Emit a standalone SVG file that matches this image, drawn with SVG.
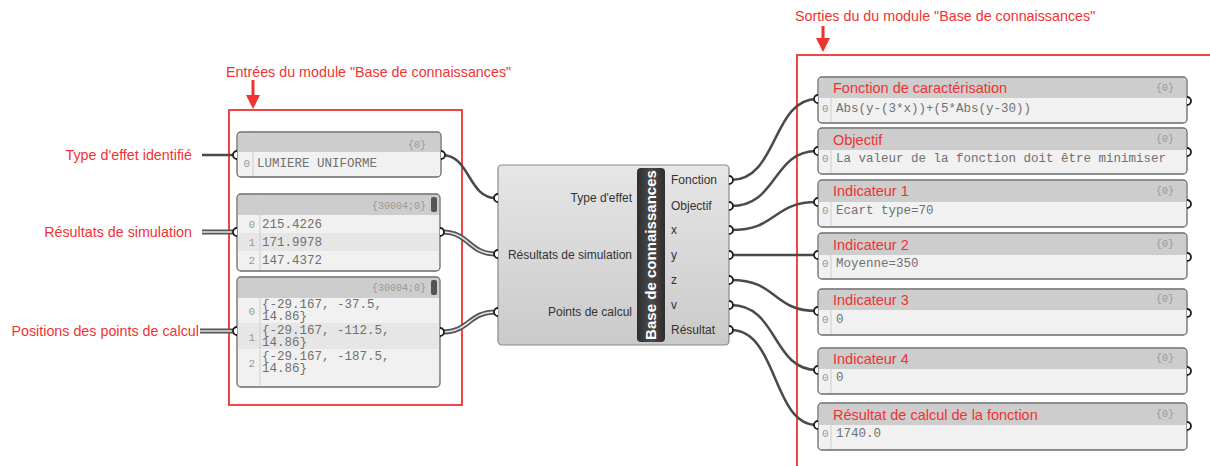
<svg xmlns="http://www.w3.org/2000/svg" width="1210" height="466" viewBox="0 0 1210 466">
<style>
.ann{font-family:"Liberation Sans",Arial,sans-serif;font-size:14.3px;fill:#f03232}
.ttl{font-family:"Liberation Sans",Arial,sans-serif;font-size:14.5px;fill:#f03232}
.red{fill:none;stroke:#f03232;stroke-width:1.8}
.mono{font-family:"Liberation Mono","Courier New",monospace;font-size:12.5px;fill:#707070}
.idx{font-family:"Liberation Mono","Courier New",monospace;font-size:11px;fill:#999}
.path{font-family:"Liberation Mono","Courier New",monospace;font-size:10px;fill:#999}
.lbl{font-family:"Liberation Sans",Arial,sans-serif;font-size:12px;fill:#333}
.pbox{fill:#f1f1f1;stroke:#6a6a6a;stroke-width:1.3}
.phead{fill:#cdcdcd}
.div{stroke:#cfcfcf;stroke-width:1}
.wire{fill:none;stroke:#4a4a4a;stroke-width:2.5}
.dw1{fill:none;stroke:#555;stroke-width:5}
.dw2{fill:none;stroke:#e4e4e4;stroke-width:1.6}
.grip{fill:#fff;stroke:#1e1e1e;stroke-width:1.8}
</style>
<defs>
<linearGradient id="cg" x1="0" y1="0" x2="0" y2="1">
<stop offset="0" stop-color="#e6e6e6"/>
<stop offset="1" stop-color="#cacaca"/>
</linearGradient>
<linearGradient id="bg" x1="0" y1="0" x2="1" y2="0">
<stop offset="0" stop-color="#2e2e2e"/>
<stop offset="0.5" stop-color="#4a4a4a"/>
<stop offset="1" stop-color="#2e2e2e"/>
</linearGradient>
</defs>
<rect width="1210" height="466" fill="#fff"/>

<!-- annotations -->
<g id="annotations">
<text class="ann" x="226" y="77">Entrées du module "Base de connaissances"</text>
<line x1="253" y1="80" x2="253" y2="97" stroke="#f03232" stroke-width="3"/>
<polygon points="246,95 260,95 253,109" fill="#f03232"/>
<rect class="red" x="229" y="110" width="233" height="295"/>
<text class="ann" x="795" y="21">Sorties du du module "Base de connaissances"</text>
<line x1="823" y1="26" x2="823" y2="40" stroke="#f03232" stroke-width="3"/>
<polygon points="816,38 830,38 823,52" fill="#f03232"/>
<rect class="red" x="797" y="55" width="430" height="430"/>
<text class="ann" x="192" y="160" text-anchor="end">Type d'effet identifié</text>
<text class="ann" x="192" y="237" text-anchor="end">Résultats de simulation</text>
<text class="ann" x="199" y="336" text-anchor="end">Positions des points de calcul</text>
</g>

<!-- connectors -->
<g id="connectors">
<line class="wire" x1="202" y1="155" x2="236" y2="155"/>
<line class="dw1" x1="202" y1="232" x2="236" y2="232"/>
<line class="dw2" x1="202" y1="232" x2="236" y2="232"/>
<line class="dw1" x1="200" y1="331" x2="236" y2="331"/>
<line class="dw2" x1="200" y1="331" x2="236" y2="331"/>
<path class="wire" d="M442,155 C470,155 468,198 496,198"/>
<path class="dw1" d="M442,232 C470,232 468,254 496,254"/>
<path class="dw2" d="M442,232 C470,232 468,254 496,254"/>
<path class="dw1" d="M442,332 C470,332 468,312 496,312"/>
<path class="dw2" d="M442,332 C470,332 468,312 496,312"/>
<path class="wire" d="M731,180 C778,180 772,99 817,99"/>
<path class="wire" d="M731,206 C778,206 772,151 817,151"/>
<path class="wire" d="M731,230 C778,230 772,202 817,202"/>
<path class="wire" d="M731,255 L817,255"/>
<path class="wire" d="M731,280 C778,280 772,311 817,311"/>
<path class="wire" d="M731,305 C778,305 772,370 817,370"/>
<path class="wire" d="M731,330 C778,330 772,425 817,425"/>
</g>

<!-- left panels -->
<g id="panel-type-effet">
<rect class="pbox" x="237" y="132" width="204" height="45" rx="4"/>
<path class="phead" d="M238,152 V136 a3,3 0 0 1 3,-3 H437 a3,3 0 0 1 3,3 V152 Z"/>
<line class="div" x1="253" y1="133" x2="253" y2="176"/>
<text class="path" x="426" y="148" text-anchor="end">{0}</text>
<text class="idx" x="250" y="167" text-anchor="end">0</text>
<text class="mono" x="257" y="167">LUMIERE UNIFORME</text>
<path class="grip" d="M237,151 A4,4 0 0 0 237,159"/>
<path class="grip" d="M441,151 A4,4 0 0 1 441,159"/>
</g>

<g id="panel-resultats">
<rect class="pbox" x="237" y="194" width="203" height="77" rx="4"/>
<path class="phead" d="M238,215 V198 a3,3 0 0 1 3,-3 H436 a3,3 0 0 1 3,3 V215 Z"/>
<rect x="238" y="233" width="201" height="18" fill="#e6e6e6"/>
<line class="div" x1="260" y1="195" x2="260" y2="270"/>
<rect x="431" y="197" width="6" height="15" rx="2" fill="#555"/>
<text class="path" x="426" y="209" text-anchor="end">{30004;0}</text>
<text class="idx" x="255" y="228" text-anchor="end">0</text>
<text class="idx" x="255" y="246" text-anchor="end">1</text>
<text class="idx" x="255" y="264" text-anchor="end">2</text>
<text class="mono" x="262" y="228">215.4226</text>
<text class="mono" x="262" y="246">171.9978</text>
<text class="mono" x="262" y="264">147.4372</text>
<path class="grip" d="M237,228 A4,4 0 0 0 237,236"/>
<path class="grip" d="M440,228 A4,4 0 0 1 440,236"/>
</g>

<g id="panel-points">
<rect class="pbox" x="237" y="277" width="203" height="110" rx="4"/>
<path class="phead" d="M238,298 V281 a3,3 0 0 1 3,-3 H436 a3,3 0 0 1 3,3 V298 Z"/>
<rect x="238" y="323" width="201" height="26" fill="#e6e6e6"/>
<line class="div" x1="260" y1="278" x2="260" y2="386"/>
<rect x="431" y="280" width="6" height="15" rx="2" fill="#555"/>
<text class="path" x="426" y="291" text-anchor="end">{30004;0}</text>
<text class="idx" x="255" y="315" text-anchor="end">0</text>
<text class="idx" x="255" y="341" text-anchor="end">1</text>
<text class="idx" x="255" y="367" text-anchor="end">2</text>
<text class="mono" x="262" y="308">{-29.167, -37.5,</text>
<text class="mono" x="262" y="320">14.86}</text>
<text class="mono" x="262" y="334">{-29.167, -112.5,</text>
<text class="mono" x="262" y="346">14.86}</text>
<text class="mono" x="262" y="360">{-29.167, -187.5,</text>
<text class="mono" x="262" y="372">14.86}</text>
<path class="grip" d="M237,327 A4,4 0 0 0 237,335"/>
<path class="grip" d="M440,328 A4,4 0 0 1 440,336"/>
</g>

<!-- central component -->
<g id="component">
<rect x="498" y="165" width="231" height="180" rx="4" fill="url(#cg)" stroke="#8a8a8a" stroke-width="1.2"/>
<rect x="637" y="168" width="28" height="174" rx="4" fill="url(#bg)"/>
<text transform="translate(656,255) rotate(-90)" text-anchor="middle" font-family="Liberation Sans,Arial,sans-serif" font-size="14" font-weight="bold" fill="#fff" textLength="170" lengthAdjust="spacingAndGlyphs">Base de connaissances</text>
<text class="lbl" x="632" y="202" text-anchor="end">Type d'effet</text>
<text class="lbl" x="632" y="259" text-anchor="end">Résultats de simulation</text>
<text class="lbl" x="632" y="316" text-anchor="end">Points de calcul</text>
<text class="lbl" x="671" y="184">Fonction</text>
<text class="lbl" x="671" y="210">Objectif</text>
<text class="lbl" x="671" y="234">x</text>
<text class="lbl" x="671" y="259">y</text>
<text class="lbl" x="671" y="284">z</text>
<text class="lbl" x="671" y="309">v</text>
<text class="lbl" x="671" y="334">Résultat</text>
<path class="grip" d="M498,194 A4,4 0 0 0 498,202"/>
<path class="grip" d="M498,250 A4,4 0 0 0 498,258"/>
<path class="grip" d="M498,308 A4,4 0 0 0 498,316"/>
<path class="grip" d="M729,176 A4,4 0 0 1 729,184"/>
<path class="grip" d="M729,202 A4,4 0 0 1 729,210"/>
<path class="grip" d="M729,226 A4,4 0 0 1 729,234"/>
<path class="grip" d="M729,251 A4,4 0 0 1 729,259"/>
<path class="grip" d="M729,276 A4,4 0 0 1 729,284"/>
<path class="grip" d="M729,301 A4,4 0 0 1 729,309"/>
<path class="grip" d="M729,326 A4,4 0 0 1 729,334"/>
</g>

<!-- right panels -->
<g id="out-fonction">
<rect class="pbox" x="818" y="77" width="369" height="46" rx="4"/>
<path class="phead" d="M819,98 V81 a3,3 0 0 1 3,-3 H1183 a3,3 0 0 1 3,3 V98 Z"/>
<line class="div" x1="831" y1="98" x2="831" y2="122"/>
<text class="ttl" x="833" y="93">Fonction de caractérisation</text>
<text class="path" x="1174" y="91" text-anchor="end">{0}</text>
<text class="idx" x="822" y="112">0</text>
<text class="mono" x="836" y="112">Abs(y-(3*x))+(5*Abs(y-30))</text>
<path class="grip" d="M818,95 A4,4 0 0 0 818,103"/>
<path class="grip" d="M1187,97 A4,4 0 0 1 1187,105"/>
</g>

<g id="out-objectif">
<rect class="pbox" x="818" y="128" width="369" height="46" rx="4"/>
<path class="phead" d="M819,150 V132 a3,3 0 0 1 3,-3 H1183 a3,3 0 0 1 3,3 V150 Z"/>
<line class="div" x1="831" y1="150" x2="831" y2="173"/>
<text class="ttl" x="833" y="145">Objectif</text>
<text class="path" x="1174" y="142" text-anchor="end">{0}</text>
<text class="idx" x="822" y="162">0</text>
<text class="mono" x="836" y="162">La valeur de la fonction doit être minimiser</text>
<path class="grip" d="M818,147 A4,4 0 0 0 818,155"/>
<path class="grip" d="M1187,148 A4,4 0 0 1 1187,156"/>
</g>

<g id="out-indicateur1">
<rect class="pbox" x="818" y="180" width="369" height="47" rx="4"/>
<path class="phead" d="M819,202 V184 a3,3 0 0 1 3,-3 H1183 a3,3 0 0 1 3,3 V202 Z"/>
<line class="div" x1="831" y1="202" x2="831" y2="226"/>
<text class="ttl" x="833" y="196">Indicateur 1</text>
<text class="path" x="1174" y="194" text-anchor="end">{0}</text>
<text class="idx" x="822" y="214">0</text>
<text class="mono" x="836" y="214">Ecart type=70</text>
<path class="grip" d="M818,198 A4,4 0 0 0 818,206"/>
<path class="grip" d="M1187,200 A4,4 0 0 1 1187,208"/>
</g>

<g id="out-indicateur2">
<rect class="pbox" x="818" y="233" width="369" height="46" rx="4"/>
<path class="phead" d="M819,255 V237 a3,3 0 0 1 3,-3 H1183 a3,3 0 0 1 3,3 V255 Z"/>
<line class="div" x1="831" y1="255" x2="831" y2="278"/>
<text class="ttl" x="833" y="250">Indicateur 2</text>
<text class="path" x="1174" y="247" text-anchor="end">{0}</text>
<text class="idx" x="822" y="267">0</text>
<text class="mono" x="836" y="267">Moyenne=350</text>
<path class="grip" d="M818,251 A4,4 0 0 0 818,259"/>
<path class="grip" d="M1187,253 A4,4 0 0 1 1187,261"/>
</g>

<g id="out-indicateur3">
<rect class="pbox" x="818" y="289" width="369" height="46" rx="4"/>
<path class="phead" d="M819,310 V293 a3,3 0 0 1 3,-3 H1183 a3,3 0 0 1 3,3 V310 Z"/>
<line class="div" x1="831" y1="310" x2="831" y2="334"/>
<text class="ttl" x="833" y="305">Indicateur 3</text>
<text class="path" x="1174" y="302" text-anchor="end">{0}</text>
<text class="idx" x="822" y="323">0</text>
<text class="mono" x="836" y="323">0</text>
<path class="grip" d="M818,307 A4,4 0 0 0 818,315"/>
<path class="grip" d="M1187,309 A4,4 0 0 1 1187,317"/>
</g>

<g id="out-indicateur4">
<rect class="pbox" x="818" y="348" width="369" height="46" rx="4"/>
<path class="phead" d="M819,369 V352 a3,3 0 0 1 3,-3 H1183 a3,3 0 0 1 3,3 V369 Z"/>
<line class="div" x1="831" y1="369" x2="831" y2="393"/>
<text class="ttl" x="833" y="364">Indicateur 4</text>
<text class="path" x="1174" y="361" text-anchor="end">{0}</text>
<text class="idx" x="822" y="381">0</text>
<text class="mono" x="836" y="381">0</text>
<path class="grip" d="M818,366 A4,4 0 0 0 818,374"/>
<path class="grip" d="M1187,367 A4,4 0 0 1 1187,375"/>
</g>

<g id="out-resultat">
<rect class="pbox" x="818" y="403" width="369" height="47" rx="4"/>
<path class="phead" d="M819,425 V407 a3,3 0 0 1 3,-3 H1183 a3,3 0 0 1 3,3 V425 Z"/>
<line class="div" x1="831" y1="425" x2="831" y2="449"/>
<text class="ttl" x="833" y="420">Résultat de calcul de la fonction</text>
<text class="path" x="1174" y="417" text-anchor="end">{0}</text>
<text class="idx" x="822" y="437">0</text>
<text class="mono" x="836" y="437">1740.0</text>
<path class="grip" d="M818,421 A4,4 0 0 0 818,429"/>
<path class="grip" d="M1187,422 A4,4 0 0 1 1187,430"/>
</g>
</svg>
